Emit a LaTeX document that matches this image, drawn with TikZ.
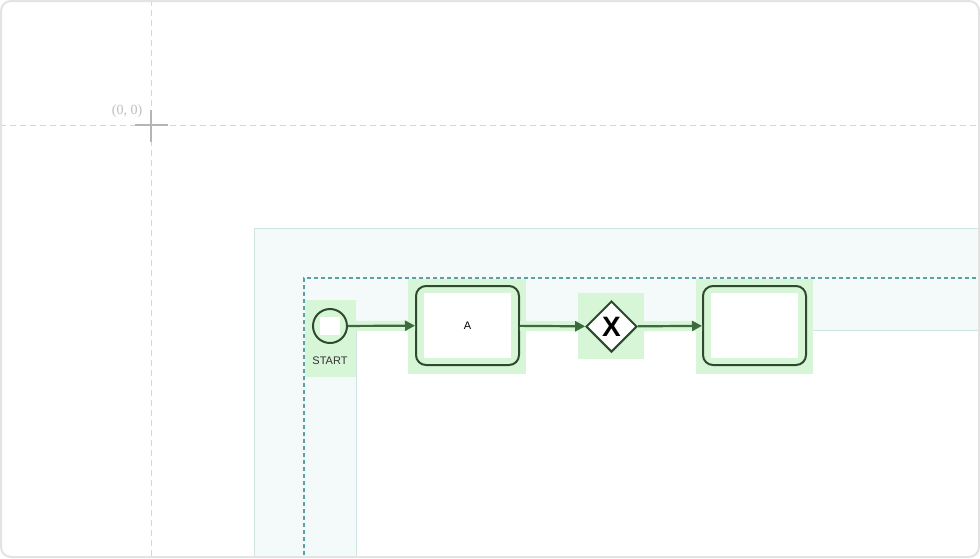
\documentclass[tikz,border=0pt]{standalone}
\usepackage{fontspec}
\setsansfont{Liberation Sans}
\newfontfamily\originfont{Liberation Serif}
\usetikzlibrary{arrows.meta,positioning,shapes.geometric}
\definecolor{framegray}{HTML}{E3E3E3}
\definecolor{guidegray}{HTML}{D6D6D6}
\definecolor{crossgray}{HTML}{B5B5B5}
\definecolor{poolfill}{HTML}{F4F9FA}
\definecolor{poolline}{HTML}{CFE5E2}
\definecolor{laneteal}{HTML}{5C9FA5}
\definecolor{selgreen}{HTML}{D7F5D7}
\definecolor{nodeink}{HTML}{2E4A2E}
\definecolor{flowink}{HTML}{3C6A3C}

\begin{document}
\begin{tikzpicture}[x=1pt, y=-1pt,
  sel/.style={fill=selgreen},
  guide/.style={guidegray, line width=1pt, dash pattern=on 6pt off 4pt},
  lane/.style={laneteal, line width=1.5pt, dash pattern=on 4pt off 3pt},
  task/.style={draw=nodeink, line width=2pt, rounded corners=10pt, fill=selgreen,
    minimum width=103pt, minimum height=79pt, inner sep=0pt,
    font=\sffamily\fontsize{11}{13}\selectfont,
    path picture={\fill[white, sharp corners] ([shift={(8,7)}]path picture bounding box.north west)
      rectangle ([shift={(-8,-7)}]path picture bounding box.south east);}},
  event/.style={circle, draw=nodeink, line width=2pt, fill=selgreen,
    minimum size=34pt, inner sep=0pt,
    path picture={\fill[white, sharp corners] ([shift={(7,8)}]path picture bounding box.north west)
      rectangle ([shift={(-7,-8)}]path picture bounding box.south east);}},
  xgate/.style={diamond, draw=nodeink, line width=2pt, fill=white,
    minimum width=51pt, minimum height=51pt, inner sep=0pt,
    font=\sffamily\bfseries\fontsize{28}{28}\selectfont},
  lab/.style={font=\sffamily\fontsize{11}{13}\selectfont, text=black!80},
  flowsel/.style={draw=selgreen, line width=10pt},
  flow/.style={draw=flowink, line width=2.2pt, -{Triangle[length=10pt, width=10pt]}}
]
  \useasboundingbox (0,0) rectangle (980,558);
  \begin{scope}
    \clip[rounded corners=10pt] (1,1) rectangle (979,557);
    \fill[white] (0,0) rectangle (980,558);
    % canvas guides
    \draw[guide] (151,0) -- (151,558);
    \draw[guide] (0,125) -- (980,125);
    \draw[crossgray, line width=1.5pt] (135,125) -- (168,125) (151,110) -- (151,142);
    \node[font=\originfont\fontsize{14}{16}\selectfont, text=black!25] (origin) at (127,111) {(0, 0)};
    % pool and lane
    \fill[poolfill, draw=poolline, line width=1pt] (254,228) rectangle (990,570);
    \fill[white, draw=poolline, line width=1pt] (356,330) rectangle (990,570);
    \draw[lane] (990,278) -- (304,278) -- (304,570);
    % selection
    \foreach \xa/\ya/\xb/\yb in {305/300/356/377, 408/279/526/374,
                                  578/293/644/359, 696/279/813/374}
      \fill[sel] (\xa,\ya) rectangle (\xb,\yb);
    % elements
    \node[event] (start) at (330,326) {};
    \node[lab, below=9pt of start] (startlabel) {START};
    \node[task] (taskA) at (467.5,325.5) {A};
    \node[xgate] (gw) at (611.5,326.5) {X};
    \node[task] (taskB) at (754.5,325.5) {};
    \foreach \a/\b in {start/taskA, taskA/gw, gw/taskB} {
      \draw[flowsel] (\a) -- (\b);
      \draw[flow] (\a) -- (\b);
    }
  \end{scope}
  \draw[framegray, line width=2pt, rounded corners=10pt] (1,1) rectangle (979,557);
\end{tikzpicture}
\end{document}
